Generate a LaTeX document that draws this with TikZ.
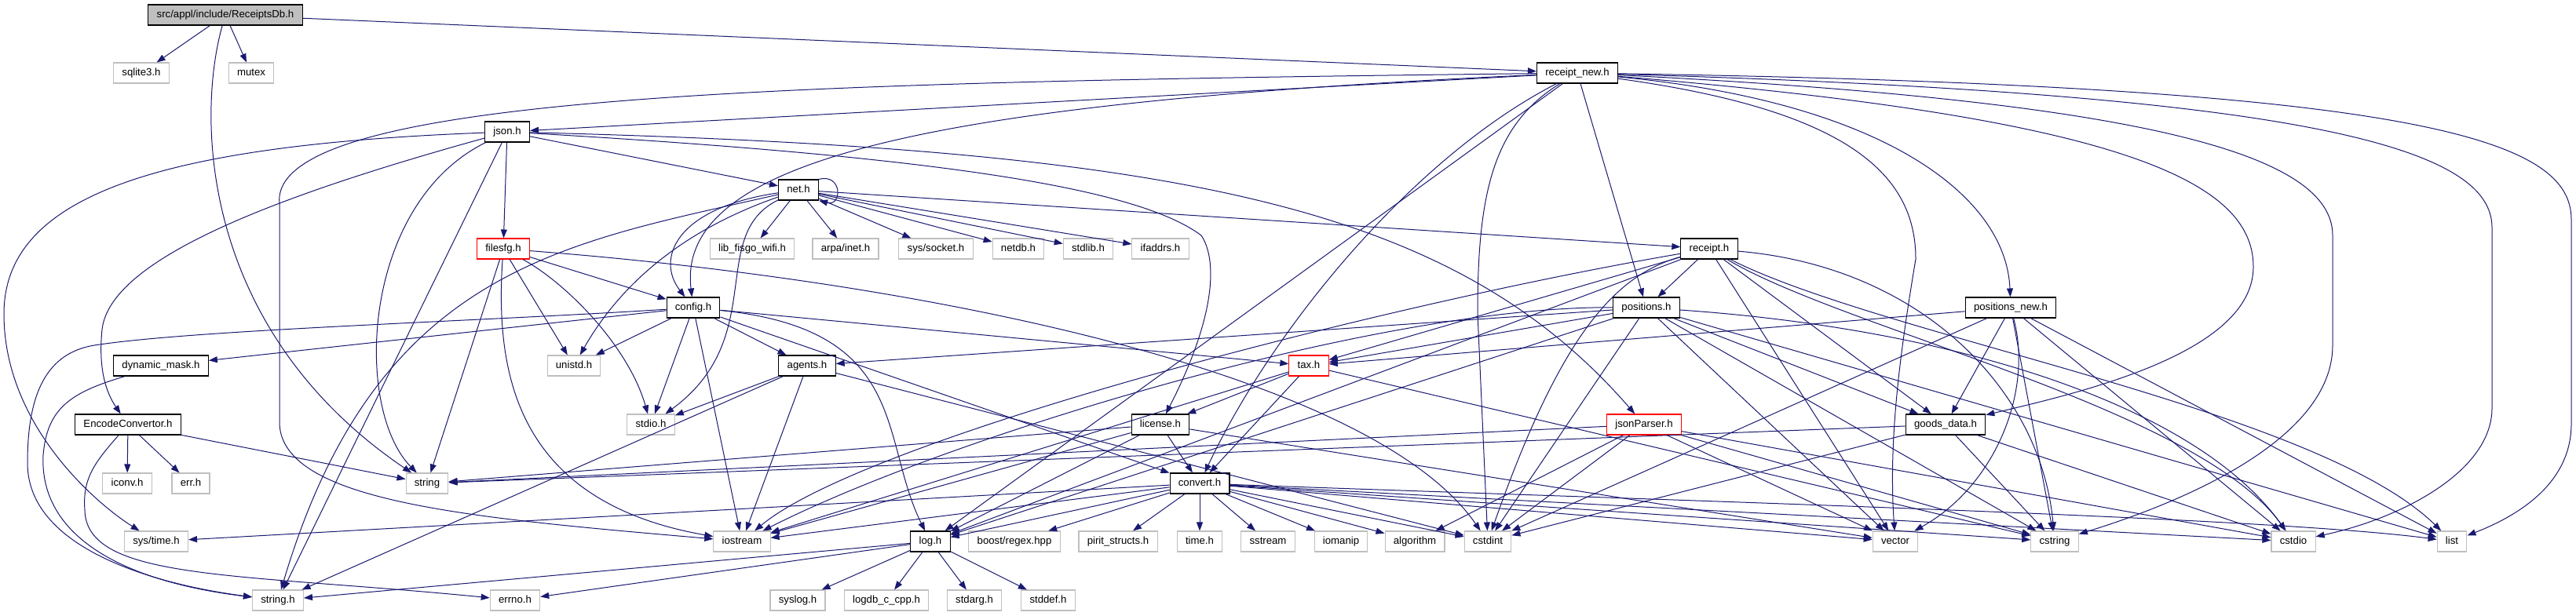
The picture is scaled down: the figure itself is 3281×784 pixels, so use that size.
\documentclass[tikz,border=0pt]{standalone}
\usepackage{fontspec}
\setmainfont{Liberation Sans}
\usetikzlibrary{arrows.meta}
\definecolor{edgeblue}{HTML}{191970}
\definecolor{hdrgray}{HTML}{BFBFBF}

\begin{document}
\begin{tikzpicture}[x=.5pt,y=-.5pt,font=\fontsize{6.6}{8}\selectfont,
 box/.style={draw,rectangle,line width=.55pt,minimum height=13pt,inner xsep=5.4pt,inner ysep=0pt,text height=4.9pt,text depth=1.5pt},
 doc/.style={box,draw=black},
 ext/.style={box,draw=hdrgray},
 trunc/.style={box,draw=red},
 root/.style={box,draw=black,fill=hdrgray},
 dep/.style={draw=edgeblue,line width=.5pt,-{Triangle[length=5.5pt,width=4pt]}}]
\useasboundingbox (0,0) rectangle (3281,784);
\node[root] (rdb) at (287,19) {src/appl/include/ReceiptsDb.h};
\node[ext] (sqlite) at (180,93) {sqlite3.h};
\node[ext] (mutex) at (320,93) {mutex};
\node[doc] (rnew) at (2009,93) {receipt\_new.h};
\node[doc] (json) at (646,168) {json.h};
\node[doc] (net) at (1017,242) {net.h};
\node[trunc] (filesfg) at (641,317) {filesfg.h};
\foreach \nm/\xx/\lab in {wifi/958/lib\_fisgo\_wifi.h,inet/1077/{arpa/inet.h},socket/1192/{sys/socket.h},netdb/1297/netdb.h,stdlib/1386/stdlib.h,ifaddrs/1478/ifaddrs.h}
 \node[ext] (\nm) at (\xx,317) {\lab};
\node[doc] (receipt) at (2177,317) {receipt.h};
\node[doc] (config) at (883,392) {config.h};
\node[doc] (positions) at (2097,392) {positions.h};
\node[doc] (posnew) at (2561,392) {positions\_new.h};
\node[doc] (dmask) at (205,466) {dynamic\_mask.h};
\node[ext] (unistd) at (731,466) {unistd.h};
\node[doc] (agents) at (1028,466) {agents.h};
\node[trunc] (tax) at (1667,466) {tax.h};
\node[doc] (encconv) at (163,541) {EncodeConvertor.h};
\node[ext] (stdio) at (829,541) {stdio.h};
\node[doc] (license) at (1478,541) {license.h};
\node[trunc] (jsonparser) at (2094,541) {jsonParser.h};
\node[doc] (goods) at (2478,541) {goods\_data.h};
\node[ext] (iconv) at (162,616) {iconv.h};
\node[ext] (err) at (243,616) {err.h};
\node[ext] (string) at (544,616) {string};
\node[doc] (convert) at (1528,616) {convert.h};
\foreach \nm/\xx/\lab in {systime/199/{sys/time.h},iostream/945/iostream,boost/1292/{boost/regex.hpp},pirit/1424/pirit\_structs.h,time/1528/time.h,sstream/1615/sstream,iomanip/1708/iomanip,algorithm/1802/algorithm,cstdint/1895/cstdint,vector/2414/vector,cstring/2617/cstring,cstdio/2921/cstdio,list/3123/list}
 \node[ext] (\nm) at (\xx,690) {\lab};
\node[doc] (log) at (1185,690) {log.h};
\foreach \nm/\xx/\lab in {stringh/354/string.h,errno/656/errno.h,syslog/1016/syslog.h,logdb/1129/logdb\_c\_cpp.h,stdarg/1241/stdarg.h,stddef/1335/stddef.h}
 \node[ext] (\nm) at (\xx,765) {\lab};

\foreach \d in {sqlite,mutex,rnew} \draw[dep] (rdb) -- (\d);
\foreach \d in {json,log,positions} \draw[dep] (rnew) -- (\d);
\foreach \d in {net,filesfg,stringh} \draw[dep] (json) -- (\d);
\foreach \d in {wifi,inet,socket,netdb,stdlib,ifaddrs,receipt} \draw[dep] (net) -- (\d);
\foreach \d in {config,unistd,string} \draw[dep] (filesfg) -- (\d);
\foreach \d in {dmask,unistd,stdio,iostream,agents,tax,convert} \draw[dep] (config) -- (\d);
\foreach \d in {stdio,iostream,stringh,cstdint} \draw[dep] (agents) -- (\d);
\foreach \d in {iconv,err,string} \draw[dep] (encconv) -- (\d);
\foreach \d in {positions,log,tax,goods,vector} \draw[dep] (receipt) -- (\d);
\foreach \d in {agents,tax,log,goods,cstdint,vector,cstring,list} \draw[dep] (positions) -- (\d);
\foreach \d in {tax,goods,cstdint,cstring,cstdio,list} \draw[dep] (posnew) -- (\d);
\foreach \d in {license,convert,iostream,cstring} \draw[dep] (tax) -- (\d);
\foreach \d in {string,convert,log,iostream,vector} \draw[dep] (license) -- (\d);
\foreach \d in {string,cstdint,cstring,cstdio} \draw[dep] (goods) -- (\d);
\foreach \d in {string,algorithm,cstdint,vector,cstring,cstdio} \draw[dep] (jsonparser) -- (\d);
\foreach \d in {systime,iostream,log,boost,pirit,time,sstream,iomanip,algorithm,cstdint,vector,cstring,cstdio} \draw[dep] (convert) -- (\d);
\foreach \d in {syslog,logdb,stdarg,stddef,stringh,errno} \draw[dep] (log) -- (\d);

\draw[dep] (net.north east) .. controls +(30,-8) and +(30,8) .. (net.south east);
\draw[dep] (rdb) .. controls (250,150) and (255,420) .. (string);
\draw[dep] (rnew) .. controls (1000,105) and (340,120) .. (356,260) -- (356,540) .. controls (360,640) and (600,660) .. (iostream);
\draw[dep] (rnew) .. controls (1200,130) and (860,200) .. (config);
\draw[dep] (rnew) .. controls (1800,200) and (1620,420) .. (convert);
\draw[dep] (rnew) .. controls (1900,160) and (1882,250) .. (1882,400) -- (cstdint);
\draw[dep] (rnew) .. controls (2400,130) and (2555,250) .. (posnew);
\draw[dep] (rnew) .. controls (2350,140) and (2440,220) .. (2440,330) .. controls (2420,450) and (2405,560) .. (vector);
\draw[dep] (rnew) .. controls (2700,150) and (2870,230) .. (2870,340) .. controls (2870,450) and (2650,500) .. (goods);
\draw[dep] (rnew) .. controls (2750,130) and (2971,200) .. (2971,300) -- (2971,440) .. controls (2971,560) and (2780,640) .. (cstring);
\draw[dep] (rnew) .. controls (2950,120) and (3174,190) .. (3174,290) -- (3174,520) .. controls (3174,600) and (3060,660) .. (cstdio);
\draw[dep] (rnew) .. controls (3100,110) and (3275,180) .. (3275,280) -- (3275,540) .. controls (3275,620) and (3200,660) .. (list);
\draw[dep] (json) .. controls (200,185) and (5,250) .. (5,400) .. controls (5,540) and (120,640) .. (systime);
\draw[dep] (json) .. controls (350,250) and (140,330) .. (130,420) .. controls (125,470) and (135,500) .. (encconv);
\draw[dep] (json) .. controls (460,260) and (450,520) .. (string);
\draw[dep] (json) .. controls (1200,200) and (1450,240) .. (1530,300) .. controls (1550,330) and (1550,400) .. (license);
\draw[dep] (json) .. controls (1500,190) and (1850,260) .. (jsonparser);
\draw[dep] (net) .. controls (860,265) and (835,330) .. (config);
\draw[dep] (net) .. controls (900,300) and (980,430) .. (stdio);
\draw[dep] (net) .. controls (850,300) and (780,380) .. (unistd);
\draw[dep] (net) .. controls (720,310) and (480,340) .. (stringh);
\draw[dep] (filesfg) .. controls (720,360) and (800,440) .. (stdio);
\draw[dep] (filesfg) .. controls (630,480) and (660,640) .. (iostream);
\draw[dep] (filesfg) .. controls (1200,360) and (1750,480) .. (cstdint);
\draw[dep] (config) .. controls (1160,420) and (1120,560) .. (log);
\draw[dep] (config) .. controls (600,410) and (250,420) .. (120,440) .. controls (60,450) and (35,500) .. (35,590) .. controls (35,700) and (200,745) .. (stringh);
\draw[dep] (dmask) .. controls (90,500) and (60,520) .. (55,580) .. controls (50,680) and (150,740) .. (stringh);
\draw[dep] (encconv) .. controls (120,590) and (105,610) .. (108,650) .. controls (110,740) and (300,730) .. (errno);
\draw[dep] (receipt) .. controls (1750,390) and (1100,560) .. (iostream);
\draw[dep] (receipt) .. controls (2060,350) and (1990,420) .. (cstdint);
\draw[dep] (receipt) .. controls (2450,340) and (2600,500) .. (cstring);
\draw[dep] (receipt) .. controls (2350,420) and (2800,520) .. (cstdio);
\draw[dep] (receipt) .. controls (2400,430) and (2950,520) .. (list);
\draw[dep] (positions) .. controls (1750,390) and (1200,560) .. (iostream);
\draw[dep] (positions) .. controls (2500,420) and (2800,520) .. (cstdio);
\draw[dep] (posnew) .. controls (2590,500) and (2540,620) .. (vector);
\draw[dep] (convert) .. controls (2200,640) and (2900,660) .. (list);
\end{tikzpicture}
\end{document}
